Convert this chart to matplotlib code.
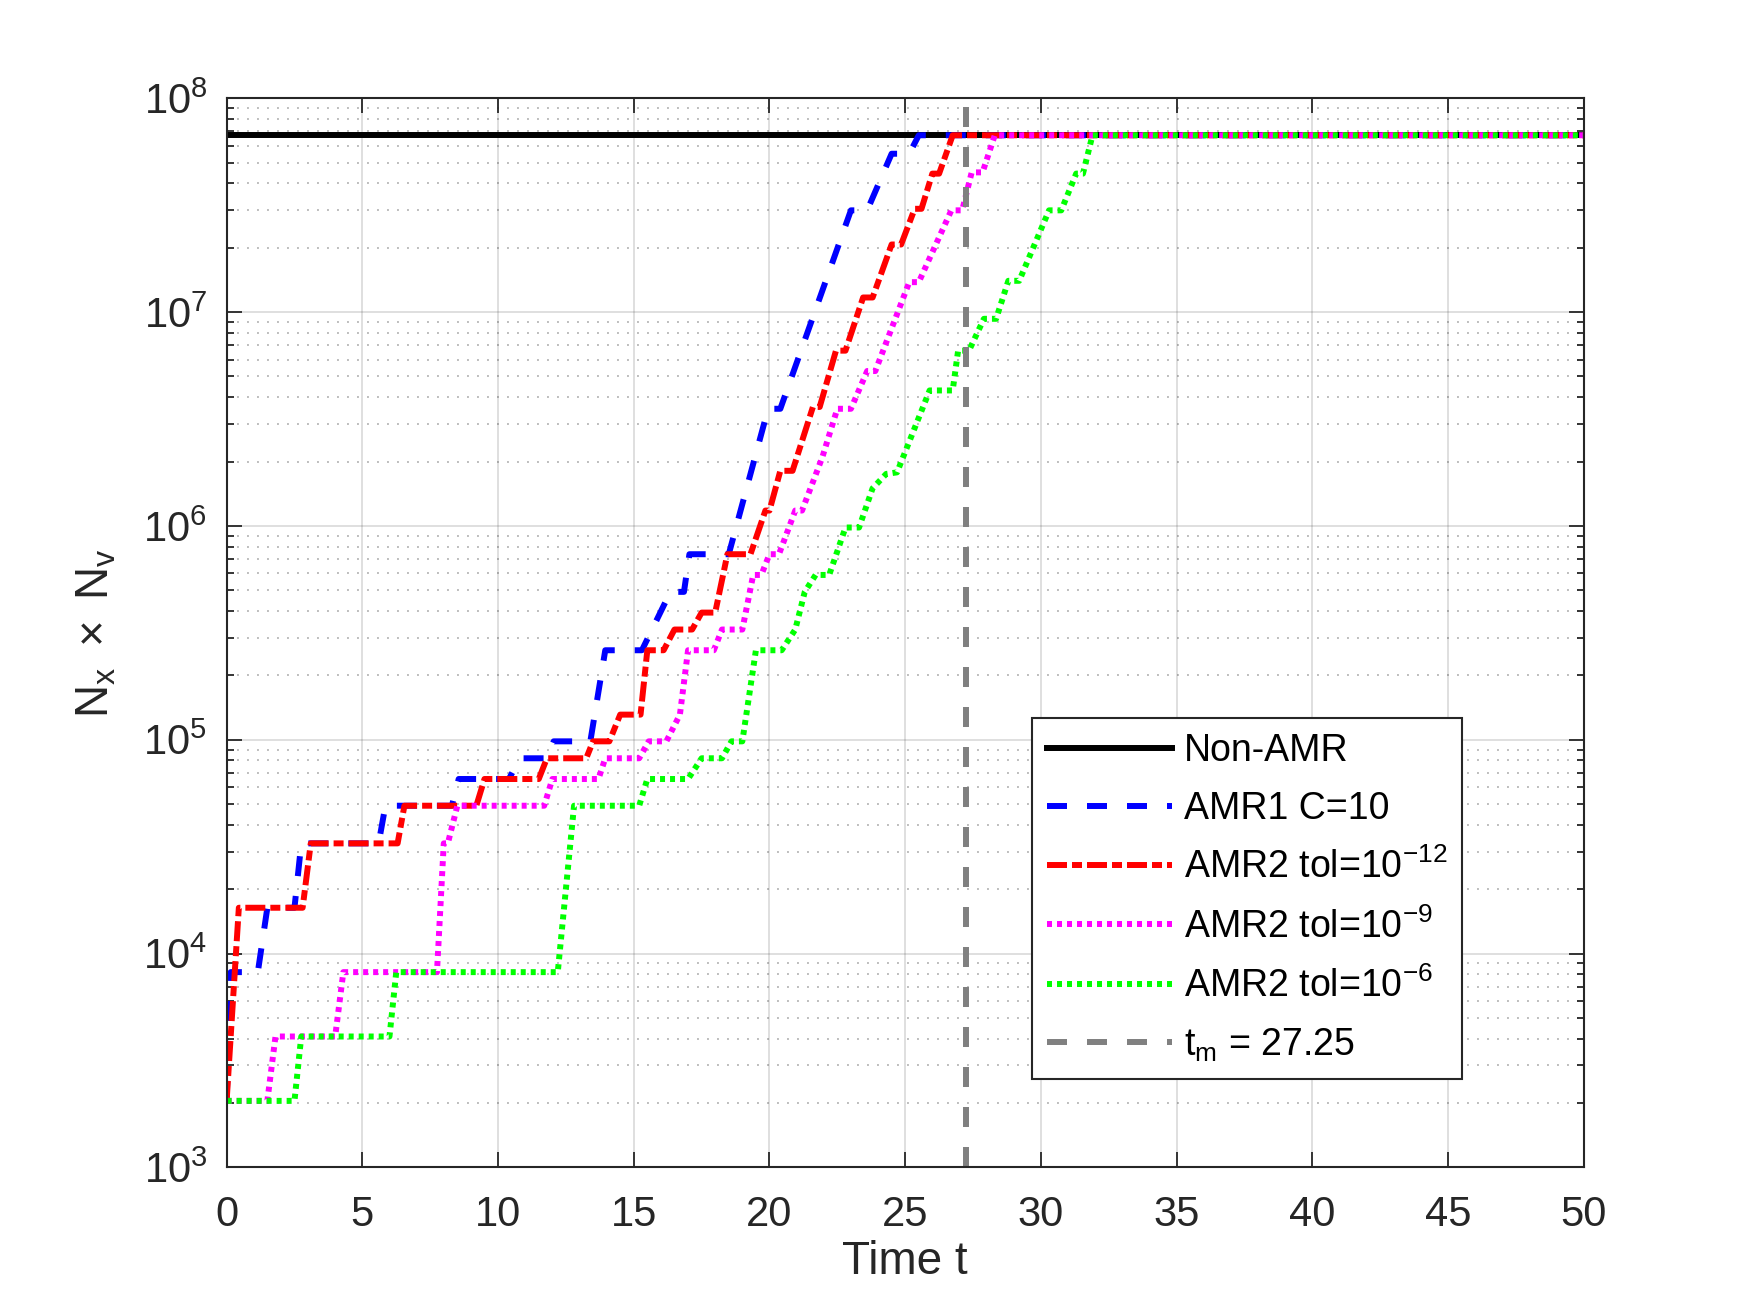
import numpy as np
import matplotlib
matplotlib.use("Agg")
import matplotlib.pyplot as plt
from matplotlib.ticker import LogLocator, NullFormatter, MultipleLocator

plt.rcParams['font.family'] = ['Liberation Sans', 'DejaVu Sans']
plt.rcParams['mathtext.fontset'] = 'custom'
plt.rcParams['mathtext.rm'] = 'Liberation Sans'
plt.rcParams['mathtext.it'] = 'Liberation Sans:italic'
plt.rcParams['axes.unicode_minus'] = False
plt.rcParams['lines.scale_dashes'] = False

# full grid size (Nx * Nv) without refinement
n_full = 2 ** 26
t_m = 27.25

# AMR1 C=10
t_amr1 = [0, 0.15, 1.15, 1.5, 2.5, 2.75, 5.6, 5.85, 8.3, 8.55, 10.4, 10.8, 11.8, 12.05,
          13.4, 13.95, 15.3, 16.35, 16.85, 17.05, 18.5, 19.95, 20.4, 23.0, 23.6, 24.5,
          25.15, 25.5, 50]
n_amr1 = [2048, 8192, 8192, 16384, 16384, 32768, 32768, 49152, 49152, 65536, 65536, 81920,
          81920, 98304, 98304, 262144, 262144, 491520, 491520, 737280, 737280, 3.53e6,
          3.53e6, 2.99e7, 2.99e7, 5.5e7, 5.5e7, n_full, n_full]

# AMR2 tol=1e-12
t_tol12 = [0, 0.45, 2.8, 3.1, 6.3, 6.55, 9.2, 9.5, 11.5, 11.8, 13.25, 13.5, 14.1, 14.5,
           15.25, 15.5, 16.1, 16.5, 17.15, 17.5, 18.0, 18.45, 19.3, 19.85, 20.0, 20.4,
           20.85, 21.6, 21.85, 22.45, 22.8, 23.45, 23.8, 24.5, 24.85, 25.35, 25.6, 26.0,
           26.25, 26.75, 50]
n_tol12 = [2048, 16384, 16384, 32768, 32768, 49152, 49152, 65536, 65536, 81920, 81920,
           98304, 98304, 131072, 131072, 262144, 262144, 327680, 327680, 393216, 393216,
           737280, 737280, 1.18e6, 1.18e6, 1.81e6, 1.81e6, 3.6e6, 3.6e6, 6.6e6, 6.6e6,
           1.17e7, 1.17e7, 2.07e7, 2.07e7, 3.04e7, 3.04e7, 4.44e7, 4.44e7, n_full, n_full]

# AMR2 tol=1e-9
t_tol9 = [0, 1.5, 1.8, 4.0, 4.3, 7.75, 8.0, 8.15, 8.5, 11.7, 12.0, 13.7, 13.95, 15.2,
          15.55, 16.2, 16.7, 17.0, 17.95, 18.25, 19.0, 19.4, 19.7, 20.0, 20.35, 20.95,
          21.2, 21.95, 22.5, 23.0, 23.6, 23.9, 25.15, 25.5, 26.7, 27.1, 27.45, 27.85,
          28.3, 50]
n_tol9 = [2048, 2048, 4096, 4096, 8192, 8192, 32768, 32768, 49152, 49152, 65536, 65536,
          81920, 81920, 98304, 98304, 131072, 262144, 262144, 327680, 327680, 589824,
          589824, 737280, 737280, 1.18e6, 1.18e6, 2.1e6, 3.53e6, 3.53e6, 5.3e6, 5.3e6,
          1.38e7, 1.38e7, 2.99e7, 2.99e7, 4.5e7, 4.5e7, n_full, n_full]

# AMR2 tol=1e-6
t_tol6 = [0, 2.5, 2.75, 6.0, 6.25, 12.2, 12.8, 15.2, 15.5, 17.0, 17.5, 18.25, 18.6, 19.0,
          19.5, 20.45, 20.95, 21.3, 21.7, 22.2, 22.8, 23.3, 23.8, 24.3, 24.7, 25.9, 26.75,
          26.95, 27.35, 27.9, 28.35, 28.8, 29.2, 30.3, 30.75, 31.3, 31.55, 31.9, 50]
n_tol6 = [2048, 2048, 4096, 4096, 8192, 8192, 49152, 49152, 65536, 65536, 81920, 81920,
          98304, 98304, 262144, 262144, 327680, 491520, 589824, 589824, 983040, 983040,
          1.5e6, 1.75e6, 1.78e6, 4.3e6, 4.3e6, 6.6e6, 6.6e6, 9.3e6, 9.3e6, 1.4e7, 1.4e7,
          2.99e7, 2.99e7, 4.44e7, 4.44e7, n_full, n_full]

axcol = (0.15, 0.15, 0.15)
lw = 4.3

fig = plt.figure(figsize=(17.5, 12.89), dpi=100)
ax = fig.add_axes([0.1295, 0.0943, 0.7755, 0.8295])

ax.plot([0, 50], [n_full, n_full], color='k', lw=lw, label='Non-AMR')
ax.plot(t_amr1, n_amr1, color='b', lw=lw, ls=(0, (14.4, 14.4)), label='AMR1 C=10')
ax.plot(t_tol12, n_tol12, color='r', lw=lw, ls=(0, (14.4, 3.6, 7.2, 3.6)),
        label=r'AMR2 tol=10$\mathdefault{^{-12}}$')
ax.plot(t_tol9, n_tol9, color='magenta', lw=lw, ls=(0, (3.6, 3.6)),
        label=r'AMR2 tol=10$\mathdefault{^{-9}}$')
ax.plot(t_tol6, n_tol6, color=(0, 1, 0), lw=lw, ls=(0, (3.6, 3.6)),
        label=r'AMR2 tol=10$\mathdefault{^{-6}}$')
ax.axvline(t_m, color=(0.5, 0.5, 0.5), lw=lw, ls=(0, (14.4, 14.4)),
           label=r'$\mathdefault{t_m}$ = 27.25')

ax.set_yscale('log')
ax.set_xlim(0, 50)
ax.set_ylim(1e3, 1e8)
ax.xaxis.set_major_locator(MultipleLocator(5))
ax.yaxis.set_major_locator(LogLocator(base=10, numticks=10))
ax.yaxis.set_minor_locator(LogLocator(base=10, subs=np.arange(2, 10), numticks=20))
ax.yaxis.set_minor_formatter(NullFormatter())

# matlab-like box, ticks and grid
for sp in ax.spines.values():
    sp.set_color(axcol)
    sp.set_linewidth(1.5)
ax.tick_params(which='both', direction='in', top=True, right=True, colors=axcol)
ax.tick_params(which='major', length=10.8, width=1.3, labelsize=30)
ax.tick_params(which='minor', length=5, width=1.3)
ax.tick_params(axis='x', pad=20)
ax.tick_params(axis='y', pad=14)
ax.grid(True, which='major', color=axcol, alpha=0.15, lw=1.4)
ax.grid(True, which='minor', axis='y', color=axcol, alpha=0.3, lw=1.4, ls=(0, (1.4, 5.8)))
ax.set_axisbelow(True)

ax.set_xlabel('Time t', fontsize=33, color=axcol)
ax.xaxis.set_label_coords(0.5, -0.068)
ax.set_ylabel(r'$\mathdefault{N_x\ \times\ N_v}$', fontsize=33, color=axcol)
ax.yaxis.set_label_coords(-0.08, 0.5)

leg = ax.legend(loc='upper left', bbox_to_anchor=(0.5935, 0.4203), fontsize=27,
                handlelength=3.33, handletextpad=0.32, labelspacing=0.58,
                borderpad=0.4, borderaxespad=0, fancybox=False, framealpha=1)
leg.get_frame().set_edgecolor(axcol)
leg.get_frame().set_linewidth(1.5)

plt.savefig('out.png', dpi=100)
